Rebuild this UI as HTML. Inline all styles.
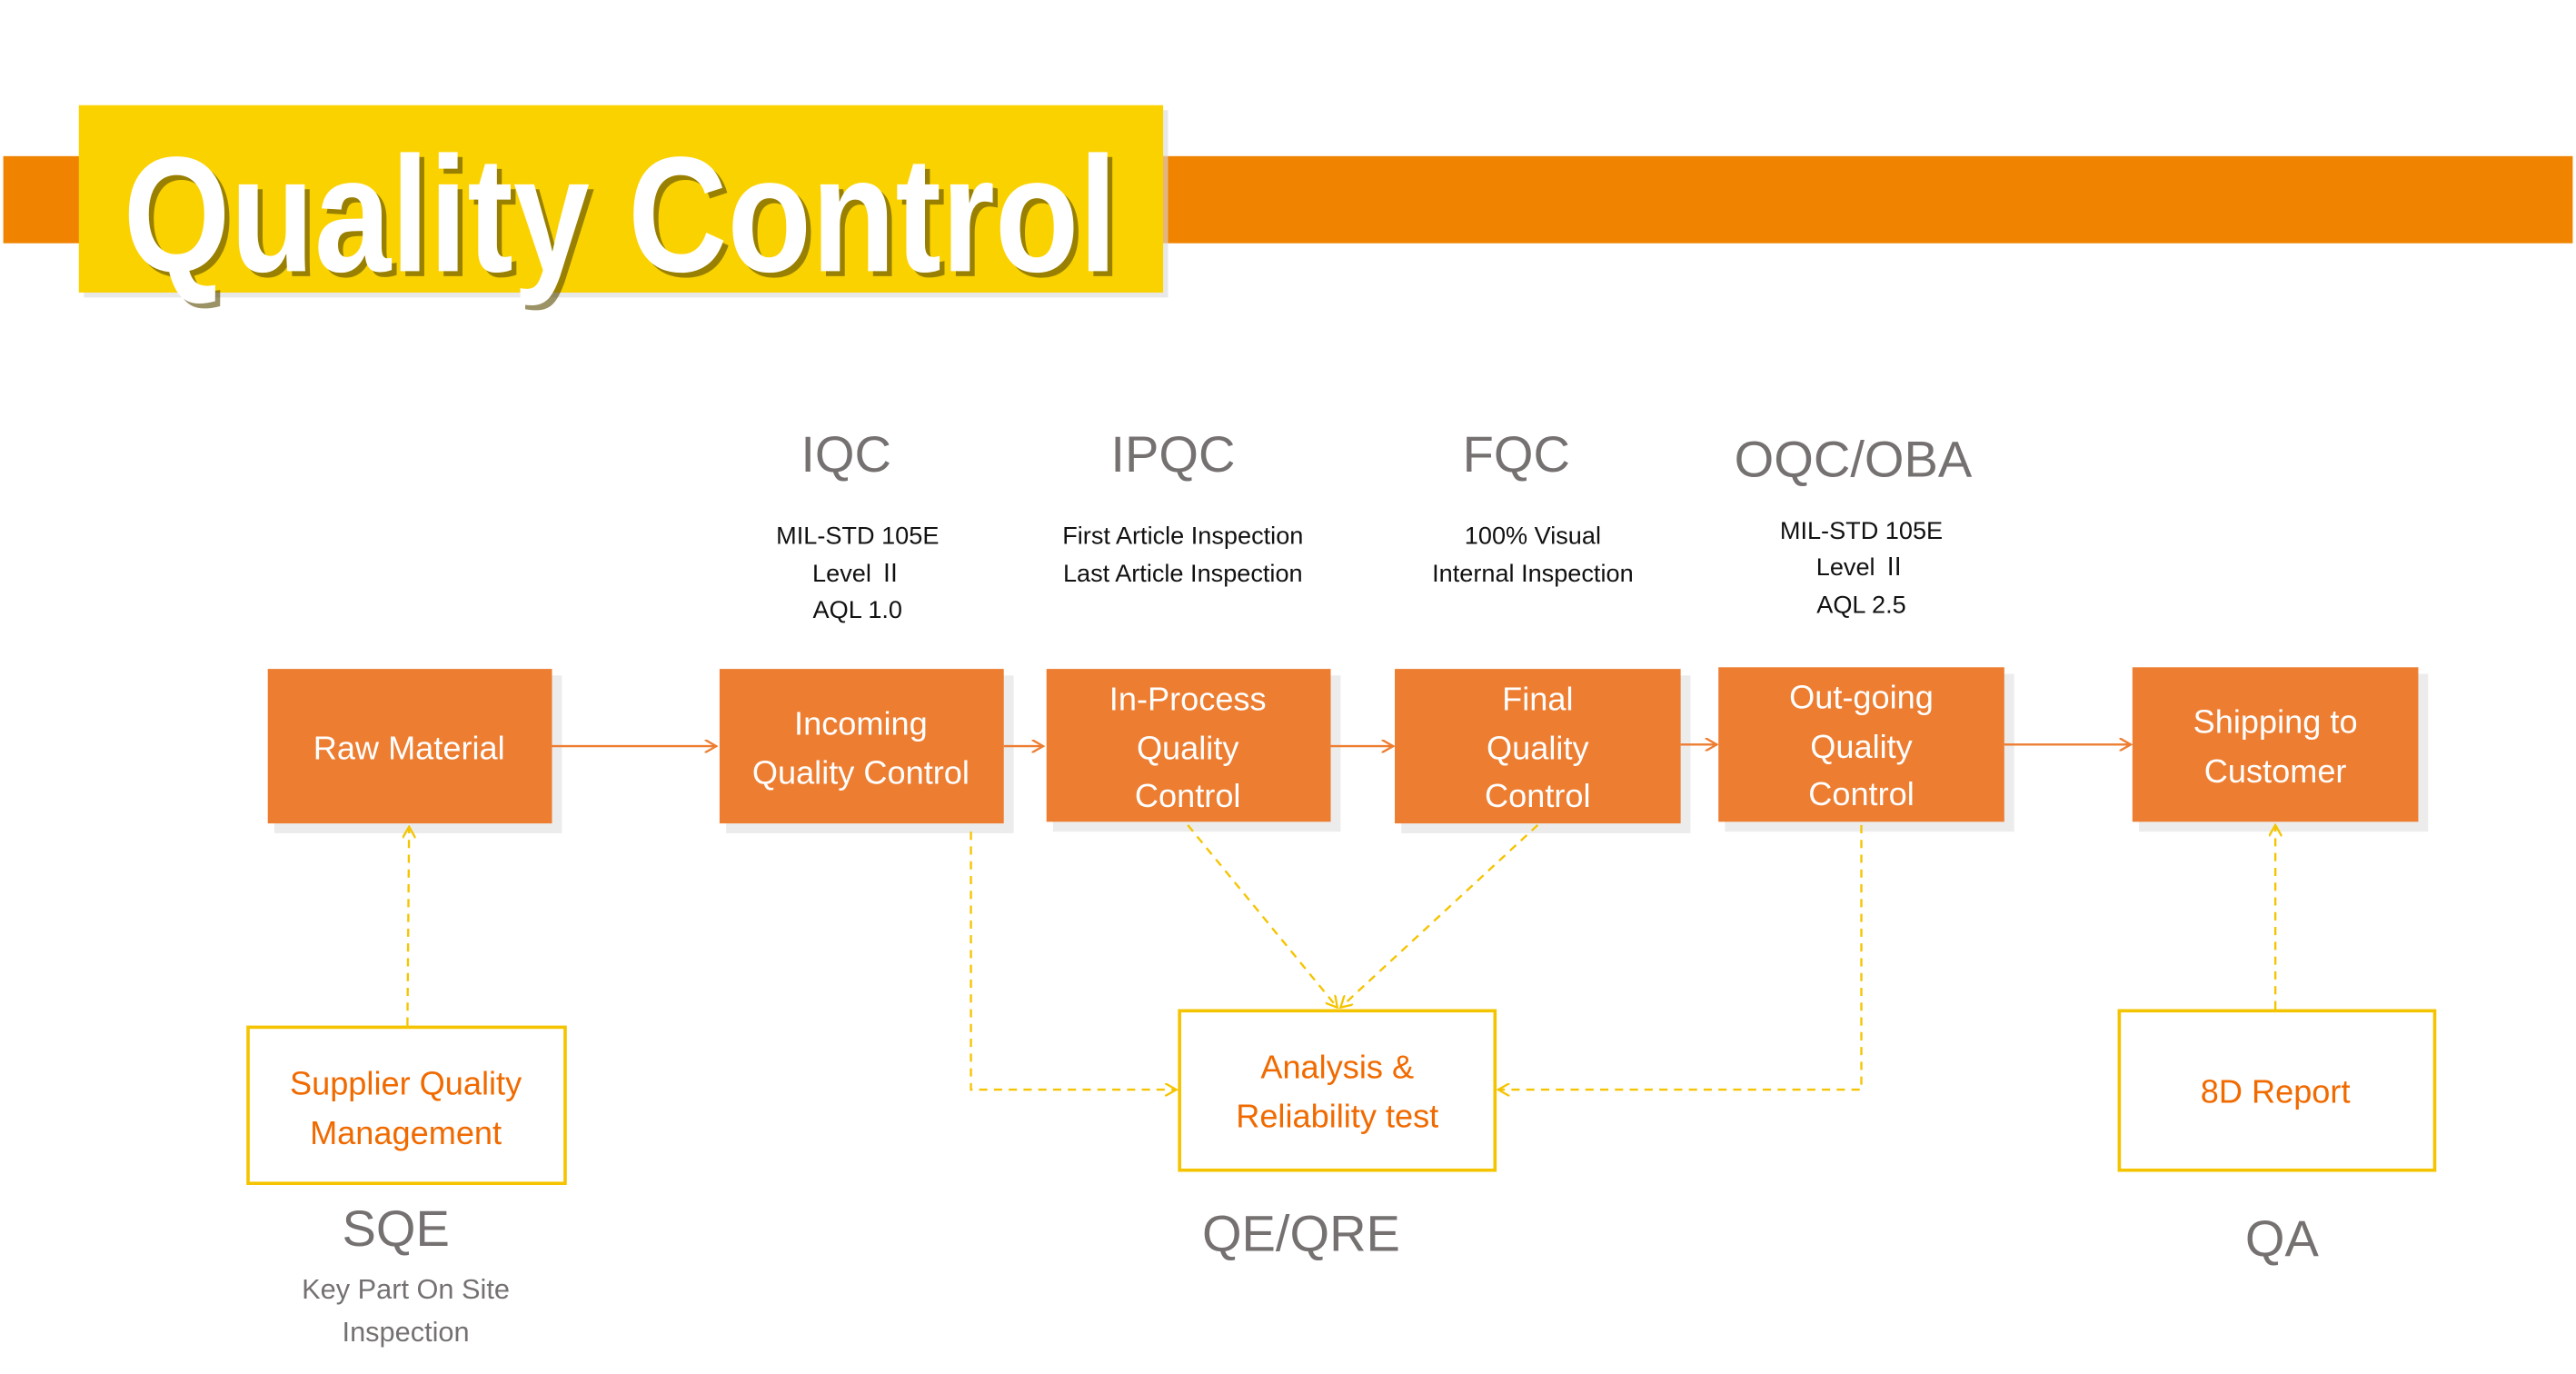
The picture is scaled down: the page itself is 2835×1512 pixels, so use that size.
<!DOCTYPE html>
<html><head><meta charset="utf-8"><style>
html,body{margin:0;padding:0;background:#fff;}
svg{display:block;}
text{font-family:"Liberation Sans","Noto Sans CJK SC",sans-serif;}
</style></head><body>
<svg width="2835" height="1512" viewBox="0 0 1568 836" preserveAspectRatio="none" xmlns="http://www.w3.org/2000/svg">
<defs>
<marker id="ao" markerWidth="8" markerHeight="8" refX="7" refY="4" orient="auto" markerUnits="userSpaceOnUse"><path d="M0,0 L7,4 L0,8" fill="none" stroke="#ED7D31" stroke-width="1.3"/></marker>
<marker id="ay" markerWidth="8" markerHeight="8" refX="7" refY="4" orient="auto" markerUnits="userSpaceOnUse"><path d="M0,0 L7,4 L0,8" fill="none" stroke="#F5C400" stroke-width="1.3"/></marker>
</defs>
<rect x="2" y="95" width="1564" height="53" fill="#F08300"/>
<rect x="51" y="67" width="660" height="114" fill="#d8d8d8" opacity="0.6"/>
<rect x="48" y="64" width="660" height="114" fill="#FAD200"/>
<text x="78" y="168" font-size="100" font-weight="bold" fill="#5a4a00" opacity="0.6" textLength="605" lengthAdjust="spacingAndGlyphs">Quality Control</text>
<text x="75" y="165" font-size="100" font-weight="bold" fill="#fff" textLength="605" lengthAdjust="spacingAndGlyphs">Quality Control</text>

<g fill="#767171" font-size="31" text-anchor="middle">
<text x="515" y="287">IQC</text><text x="714" y="287">IPQC</text><text x="923" y="287">FQC</text><text x="1128" y="290">OQC/OBA</text>
<text x="241" y="758">SQE</text><text x="792" y="761">QE/QRE</text><text x="1389" y="764">QA</text>
</g>
<g fill="#767171" font-size="17" text-anchor="middle">
<text x="247" y="790">Key Part On Site</text><text x="247" y="816">Inspection</text>
</g>
<g fill="#111" font-size="15" text-anchor="middle">
<text x="522" y="331">MIL-STD 105E</text><text x="522" y="354">Level Ⅱ</text><text x="522" y="376">AQL 1.0</text>
<text x="720" y="331">First Article Inspection</text><text x="720" y="354">Last Article Inspection</text>
<text x="933" y="331">100% Visual</text><text x="933" y="354">Internal Inspection</text>
<text x="1133" y="328">MIL-STD 105E</text><text x="1133" y="350">Level Ⅱ</text><text x="1133" y="373">AQL 2.5</text>
</g>

<g fill="#ececec">
<rect x="167" y="411" width="175" height="96"/><rect x="442" y="411" width="175" height="96"/>
<rect x="641" y="411" width="175" height="95"/><rect x="853" y="411" width="176" height="96"/>
<rect x="1050" y="410" width="176" height="96"/><rect x="1302" y="410" width="176" height="96"/>
</g>
<g fill="#ED7D31">
<rect x="163" y="407" width="173" height="94"/><rect x="438" y="407" width="173" height="94"/>
<rect x="637" y="407" width="173" height="93"/><rect x="849" y="407" width="174" height="94"/>
<rect x="1046" y="406" width="174" height="94"/><rect x="1298" y="406" width="174" height="94"/>
</g>
<g fill="#fff" font-size="20" text-anchor="middle">
<text x="249" y="462">Raw  Material</text>
<text x="524" y="447">Incoming</text><text x="524" y="477">Quality Control</text>
<text x="723" y="432">In-Process</text><text x="723" y="462">Quality</text><text x="723" y="491">Control</text>
<text x="936" y="432">Final</text><text x="936" y="462">Quality</text><text x="936" y="491">Control</text>
<text x="1133" y="431">Out-going</text><text x="1133" y="461">Quality</text><text x="1133" y="490">Control</text>
<text x="1385" y="446">Shipping to</text><text x="1385" y="476">Customer</text>
</g>

<g fill="#fff" stroke="#F5C400" stroke-width="2">
<rect x="151" y="625" width="193" height="95"/><rect x="718" y="615" width="192" height="97"/><rect x="1290" y="615" width="192" height="97"/>
</g>
<g fill="#F06A00" font-size="20" text-anchor="middle">
<text x="247" y="666">Supplier Quality</text><text x="247" y="696">Management</text>
<text x="814" y="656">Analysis &amp;</text><text x="814" y="686">Reliability test</text>
<text x="1385" y="671">8D Report</text>
</g>

<g stroke="#ED7D31" stroke-width="1.3" fill="none" marker-end="url(#ao)">
<line x1="336" y1="454" x2="436" y2="454"/><line x1="611" y1="454" x2="635" y2="454"/>
<line x1="810" y1="454" x2="848" y2="454"/><line x1="1023" y1="453" x2="1045" y2="453"/>
<line x1="1220" y1="453" x2="1297" y2="453"/>
</g>
<g stroke="#F5C400" stroke-width="1.3" fill="none" stroke-dasharray="5,4" marker-end="url(#ay)">
<line x1="248" y1="624" x2="249" y2="503"/>
<polyline points="591,506 591,663 716,663"/>
<line x1="723" y1="502" x2="814" y2="613"/>
<line x1="936" y1="502" x2="816" y2="613"/>
<polyline points="1133,502 1133,663 912,663"/>
<line x1="1385" y1="614" x2="1385" y2="502"/>
</g>
</svg>
</body></html>
